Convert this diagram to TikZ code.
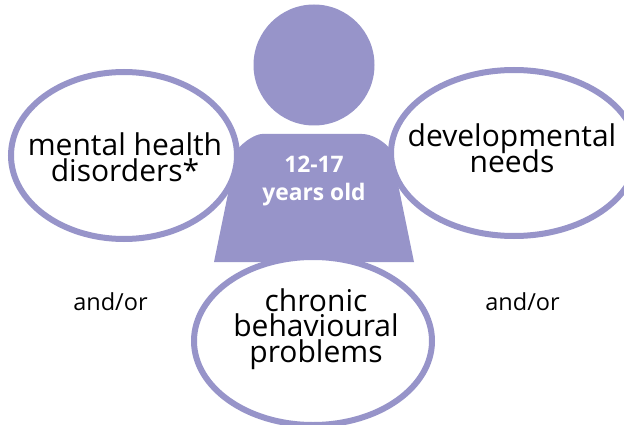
\documentclass[tikz,border=0pt]{standalone}
\usepackage{fontspec}
\setmainfont{Open Sans}
\usetikzlibrary{shapes.geometric}
\definecolor{pers}{HTML}{9794C9}
\newcommand\tightlines{\lineskiplimit=-100pt\relax}
\tikzset{
 bubble/.style={ellipse,draw=pers,line width=6pt,fill=white,inner sep=0pt},
 bubbletext/.style={align=center,text=black,inner sep=0pt,font=\fontsize{30}{25.5}\selectfont\tightlines},
 small/.style={font=\fontsize{23.5}{24}\selectfont,text=black,inner sep=0pt},
 whitet/.style={font=\bfseries\fontsize{22.8}{24}\selectfont,text=white,inner sep=0pt}
}
\begin{document}
\begin{tikzpicture}[x=1pt,y=-1pt]
\useasboundingbox (0,0) rectangle (624,425);
\fill[white] (0,0) rectangle (624,425);
\node[circle,fill=pers,minimum size=121pt,inner sep=0pt] (head) at (314,65) {};
\fill[pers] (262,134) -- (362,134) .. controls (372,134) and (384,141) .. (391,150) -- (414,262) -- (214,262) -- (237,150) .. controls (244,141) and (256,134) .. (262,134) -- cycle;
\node[whitet] (age1) at (314,164) {12-17};
\node[whitet] (age2) at (314,194.5) {years old};
\node[bubble,minimum width=226pt,minimum height=167pt] (a) at (124,155.5) {};
\node[bubble,minimum width=246pt,minimum height=166pt] (b) at (514,153) {};
\node[bubble,minimum width=238pt,minimum height=168pt] (c) at (313,341) {};
\node[bubbletext] (at) at (125,157.5) {mental health\\disorders*};
\node[bubbletext] (bt) at (512,148.5) {developmental\\needs};
\node[bubbletext] (ct) at (316,329) {chronic\\behavioural\\problems};
\node[small] (o1) at (110.5,302) {and/or};
\node[small] (o2) at (522.5,302) {and/or};
\end{tikzpicture}
\end{document}
